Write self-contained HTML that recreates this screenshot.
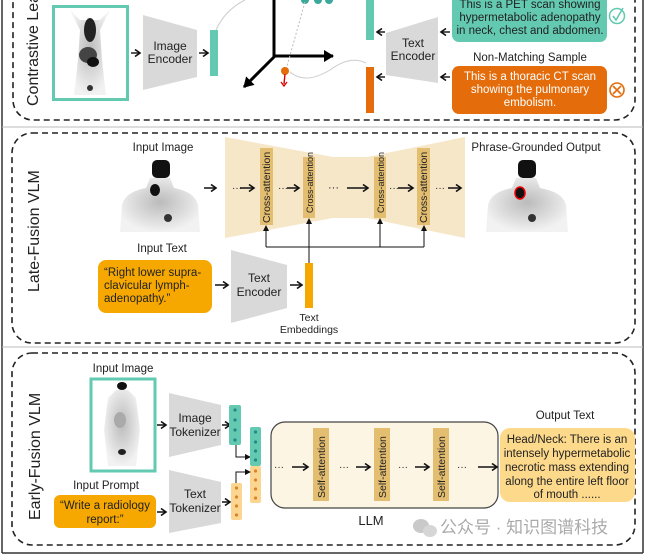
<!DOCTYPE html>
<html><head><meta charset="utf-8"><style>
html,body{margin:0;padding:0;background:#fff;}
svg{display:block;font-family:"Liberation Sans","Noto Sans CJK SC",sans-serif;}
</style></head><body>
<svg width="646" height="556" viewBox="0 0 646 556" xmlns="http://www.w3.org/2000/svg">
<defs>
<marker id="ah" markerWidth="8" markerHeight="8" refX="6" refY="4" orient="auto" markerUnits="userSpaceOnUse"><path d="M1,0.5 L6,4 L1,7.5" fill="none" stroke="#111" stroke-width="1.6"/></marker>
<marker id="ahb" markerWidth="12" markerHeight="12" refX="9" refY="6" orient="auto" markerUnits="userSpaceOnUse"><path d="M0,0 L10,6 L0,12 Z" fill="#000"/></marker>
<marker id="aht" markerWidth="6" markerHeight="6" refX="3" refY="3" orient="auto" markerUnits="userSpaceOnUse"><path d="M0,0 L6,3 L0,6 Z" fill="#111"/></marker>
<radialGradient id="body" cx="50%" cy="45%" r="55%"><stop offset="0" stop-color="#bbb"/><stop offset="1" stop-color="#f2f2f2"/></radialGradient>
</defs>

<line x1="2" y1="0" x2="2" y2="553" stroke="#333" stroke-width="1.5"/>
<line x1="643" y1="0" x2="643" y2="553" stroke="#333" stroke-width="1.5"/>
<line x1="2" y1="553" x2="643" y2="553" stroke="#333" stroke-width="1.5"/>
<line x1="2" y1="127" x2="643" y2="127" stroke="#bbb" stroke-width="1"/>
<line x1="2" y1="347" x2="643" y2="347" stroke="#bbb" stroke-width="1"/>

<!-- Panel 1 -->
<rect x="13" y="-30" width="622" height="150" rx="20" fill="none" stroke="#222" stroke-width="1.6" stroke-dasharray="6,4"/>
<text transform="translate(38,106) rotate(-90)" font-size="16" fill="#222">Contrastive Lear</text>
<rect x="53.5" y="6.5" width="74" height="93" fill="#fff" stroke="#63c9b1" stroke-width="3"/>
<path d="M70,10 L80,30 L78,60 L74,95 L106,95 L102,60 L100,30 L110,10 L100,20 L80,20 Z" fill="url(#body)"/>
<ellipse cx="90" cy="30" rx="6" ry="12" fill="#222"/>
<ellipse cx="88" cy="55" rx="9" ry="8" fill="#444"/>
<ellipse cx="93" cy="62" rx="6" ry="5" fill="#111"/>
<ellipse cx="90" cy="88" rx="3" ry="3" fill="#333"/>
<line x1="131" y1="53" x2="140" y2="53" stroke="#111" stroke-width="1.4" marker-end="url(#ah)"/>
<polygon points="143,15 197,30 197,77 143,90" fill="#d9d9d9"/>
<text x="170" y="50" font-size="12" text-anchor="middle" fill="#222">Image</text>
<text x="170" y="63" font-size="12" text-anchor="middle" fill="#222">Encoder</text>
<line x1="199" y1="53" x2="208" y2="53" stroke="#111" stroke-width="1.4" marker-end="url(#ah)"/>
<rect x="210" y="30" width="8" height="46" fill="#63c9b1"/>
<path d="M216,30 Q225,10 245,0" fill="none" stroke="#ccc" stroke-width="1"/>
<line x1="274" y1="57" x2="274" y2="0" stroke="#000" stroke-width="3"/>
<line x1="273" y1="56" x2="333" y2="56" stroke="#000" stroke-width="3" marker-end="url(#ahb)"/>
<line x1="275" y1="56" x2="244" y2="87" stroke="#000" stroke-width="3" marker-end="url(#ahb)"/>
<circle cx="305" cy="0" r="4" fill="#3aa89a"/><circle cx="318" cy="0" r="4" fill="#3aa89a"/><circle cx="329" cy="0" r="4" fill="#3aa89a"/>
<line x1="305" y1="2" x2="287" y2="66" stroke="#bbb" stroke-width="1" stroke-dasharray="2,2"/>
<path d="M366,63 Q350,55 330,70 Q305,85 290,72" fill="none" stroke="#ccc" stroke-width="1"/>
<circle cx="285" cy="71" r="4" fill="#e46c0a"/>
<line x1="285" y1="74" x2="284" y2="84" stroke="#d00" stroke-width="1.4"/>
<path d="M281,82 L284,86 L287,82" fill="none" stroke="#d00" stroke-width="1.3"/>
<rect x="366" y="0" width="8" height="40" fill="#63c9b1"/>
<rect x="366" y="67" width="8" height="46" fill="#e46c0a"/>
<line x1="385" y1="32" x2="377" y2="32" stroke="#111" stroke-width="1.4" marker-end="url(#ah)"/>
<line x1="385" y1="77" x2="377" y2="77" stroke="#111" stroke-width="1.4" marker-end="url(#ah)"/>
<polygon points="386,33 438,17 438,83 386,75" fill="#d9d9d9"/>
<text x="413" y="47" font-size="12" text-anchor="middle" fill="#222">Text</text>
<text x="413" y="60" font-size="12" text-anchor="middle" fill="#222">Encoder</text>
<line x1="450" y1="32" x2="441" y2="32" stroke="#111" stroke-width="1.4" marker-end="url(#ah)"/>
<line x1="450" y1="77" x2="441" y2="77" stroke="#111" stroke-width="1.4" marker-end="url(#ah)"/>
<rect x="452" y="-10" width="155" height="52" rx="7" fill="#63c9b1"/>
<g font-size="11.5" text-anchor="middle" fill="#222">
<text x="530" y="8">This is a PET scan showing</text>
<text x="530" y="21">hypermetabolic adenopathy</text>
<text x="530" y="34">in neck, chest and abdomen.</text>
</g>
<circle cx="617" cy="16" r="7.5" fill="none" stroke="#63c9b1" stroke-width="1.5"/>
<path d="M613,16 L616,20 L623,8" fill="none" stroke="#63c9b1" stroke-width="1.6"/>
<text x="530" y="61" font-size="11.5" text-anchor="middle" fill="#222">Non-Matching Sample</text>
<rect x="452" y="66" width="155" height="48" rx="7" fill="#e46c0a"/>
<g font-size="11.5" text-anchor="middle" fill="#fff">
<text x="530" y="80">This is a thoracic CT scan</text>
<text x="530" y="93">showing the pulmonary</text>
<text x="530" y="106">embolism.</text>
</g>
<circle cx="617" cy="90" r="7" fill="none" stroke="#e46c0a" stroke-width="1.6"/>
<path d="M613,86 L621,94 M621,86 L613,94" stroke="#e46c0a" stroke-width="1.6"/>

<!-- Panel 2 -->
<rect x="12" y="133" width="623" height="210" rx="20" fill="none" stroke="#222" stroke-width="1.6" stroke-dasharray="6,4"/>
<text transform="translate(39,292) rotate(-90)" font-size="16" fill="#222">Late-Fusion VLM</text>
<text x="163" y="151" font-size="11.5" text-anchor="middle" fill="#222">Input Image</text>
<path d="M150,178 L146,188 Q125,192 122,205 L120,232 L200,232 L198,205 Q195,192 174,188 L170,178 Z" fill="url(#body)"/>
<rect x="152" y="160" width="18" height="18" rx="5" fill="#111"/>
<ellipse cx="155" cy="190" rx="5" ry="6" fill="#111"/>
<ellipse cx="168" cy="218" rx="4" ry="4" fill="#333"/>
<line x1="204" y1="188" x2="216" y2="188" stroke="#111" stroke-width="1.5" marker-end="url(#ah)"/>
<polygon points="225,137 333,157 367,157 465,137 465,238 367,218 333,218 225,238" fill="#f6e7c9"/>
<text x="232" y="191" font-size="10" fill="#222">···</text>
<line x1="240" y1="188" x2="254" y2="188" stroke="#111" stroke-width="1.5" marker-end="url(#ah)"/>
<rect x="260" y="148" width="13" height="77" fill="#e3bd70"/>
<text transform="translate(270,223) rotate(-90)" font-size="10.5" fill="#222">Cross-attention</text>
<text x="278" y="191" font-size="10" fill="#222">···</text>
<line x1="287" y1="188" x2="299" y2="188" stroke="#111" stroke-width="1.5" marker-end="url(#ah)"/>
<rect x="303" y="157" width="12" height="61" fill="#e3bd70"/>
<text transform="translate(313,213) rotate(-90)" font-size="9" fill="#222">Cross-attention</text>
<text x="328" y="191" font-size="11" fill="#222">···</text>
<line x1="347" y1="188" x2="368" y2="188" stroke="#111" stroke-width="1.5" marker-end="url(#ah)"/>
<rect x="374" y="157" width="12" height="61" fill="#e3bd70"/>
<text transform="translate(384,213) rotate(-90)" font-size="9" fill="#222">Cross-attention</text>
<text x="389" y="191" font-size="10" fill="#222">···</text>
<line x1="398" y1="188" x2="413" y2="188" stroke="#111" stroke-width="1.5" marker-end="url(#ah)"/>
<rect x="417" y="148" width="13" height="77" fill="#e3bd70"/>
<text transform="translate(427,223) rotate(-90)" font-size="10.5" fill="#222">Cross-attention</text>
<text x="435" y="191" font-size="10" fill="#222">···</text>
<line x1="448" y1="188" x2="461" y2="188" stroke="#111" stroke-width="1.5" marker-end="url(#ah)"/>
<text x="536" y="151" font-size="11.5" text-anchor="middle" fill="#222">Phrase-Grounded Output</text>
<path d="M516,178 L512,188 Q491,192 488,205 L486,232 L568,232 L566,205 Q563,192 540,188 L536,178 Z" fill="url(#body)"/>
<rect x="518" y="160" width="18" height="18" rx="5" fill="#111"/>
<ellipse cx="520" cy="193" rx="5" ry="6" fill="#111" stroke="#e00" stroke-width="1.5"/>
<ellipse cx="532" cy="218" rx="4" ry="4" fill="#333"/>
<polyline points="266,247 424,247" fill="none" stroke="#111" stroke-width="1"/>
<line x1="266" y1="247" x2="266" y2="228" stroke="#111" stroke-width="1" marker-end="url(#aht)"/>
<line x1="380" y1="247" x2="380" y2="221" stroke="#111" stroke-width="1" marker-end="url(#aht)"/>
<line x1="424" y1="247" x2="424" y2="228" stroke="#111" stroke-width="1" marker-end="url(#aht)"/>
<line x1="309" y1="263" x2="309" y2="221" stroke="#111" stroke-width="1" marker-end="url(#aht)"/>
<text x="162" y="252" font-size="11.5" text-anchor="middle" fill="#222">Input Text</text>
<rect x="98" y="260" width="114" height="53" rx="8" fill="#f6a800"/>
<g font-size="11.5" fill="#222">
<text x="104" y="276">“Right lower supra-</text>
<text x="104" y="289">clavicular lymph-</text>
<text x="104" y="302">adenopathy.”</text>
</g>
<line x1="215" y1="285" x2="228" y2="285" stroke="#111" stroke-width="1.5" marker-end="url(#ah)"/>
<polygon points="231,250 287,265 287,308 231,323" fill="#d9d9d9"/>
<text x="259" y="282" font-size="12" text-anchor="middle" fill="#222">Text</text>
<text x="259" y="296" font-size="12" text-anchor="middle" fill="#222">Encoder</text>
<line x1="290" y1="285" x2="302" y2="285" stroke="#111" stroke-width="1.5" marker-end="url(#ah)"/>
<rect x="305" y="263" width="8" height="45" fill="#f6a800"/>
<text x="309" y="321" font-size="10.5" text-anchor="middle" fill="#222">Text</text>
<text x="309" y="333" font-size="10.5" text-anchor="middle" fill="#222">Embeddings</text>

<!-- Panel 3 -->
<rect x="12" y="353" width="623" height="192" rx="20" fill="none" stroke="#222" stroke-width="1.6" stroke-dasharray="6,4"/>
<text transform="translate(40,520) rotate(-90)" font-size="16" fill="#222">Early-Fusion VLM</text>
<text x="123" y="372" font-size="11.5" text-anchor="middle" fill="#222">Input Image</text>
<rect x="91" y="379" width="64" height="92" fill="#fff" stroke="#63c9b1" stroke-width="3"/>
<path d="M116,390 L108,398 L104,430 L108,466 L136,466 L140,430 L136,398 L128,390 Z" fill="url(#body)"/>
<ellipse cx="122" cy="386" rx="5" ry="4" fill="#111"/>
<ellipse cx="120" cy="420" rx="6" ry="8" fill="#aaa"/>
<ellipse cx="122" cy="452" rx="4" ry="3" fill="#222"/>
<line x1="157" y1="425" x2="166" y2="425" stroke="#111" stroke-width="1.5" marker-end="url(#ah)"/>
<polygon points="169,393 221,405 221,445 169,457" fill="#d9d9d9"/>
<text x="195" y="422" font-size="12" text-anchor="middle" fill="#222">Image</text>
<text x="195" y="436" font-size="12" text-anchor="middle" fill="#222">Tokenizer</text>
<line x1="222" y1="425" x2="230" y2="425" stroke="#111" stroke-width="1.5" marker-end="url(#ah)"/>
<rect x="229" y="405" width="12" height="40" rx="2" fill="#63c9b1"/>
<g fill="#1f8a86"><circle cx="235" cy="410" r="1.6"/><circle cx="235" cy="420" r="1.6"/><circle cx="235" cy="430" r="1.6"/><circle cx="235" cy="440" r="1.6"/></g>
<polyline points="236,445 236,457 248,457" fill="none" stroke="#111" stroke-width="1" marker-end="url(#aht)"/>
<rect x="250" y="427" width="11" height="39" rx="2" fill="#63c9b1"/>
<g fill="#1f8a86"><circle cx="255.5" cy="432" r="1.6"/><circle cx="255.5" cy="442" r="1.6"/><circle cx="255.5" cy="451" r="1.6"/><circle cx="255.5" cy="460" r="1.6"/></g>
<rect x="250" y="466" width="11" height="37" rx="2" fill="#fcd690"/>
<g fill="#d9822b"><circle cx="255.5" cy="471" r="1.6"/><circle cx="255.5" cy="480" r="1.6"/><circle cx="255.5" cy="489" r="1.6"/><circle cx="255.5" cy="498" r="1.6"/></g>
<text x="106" y="489" font-size="11.5" text-anchor="middle" fill="#222">Input Prompt</text>
<rect x="54" y="495" width="102" height="33" rx="6" fill="#f6a800"/>
<text x="105" y="509" font-size="11.5" text-anchor="middle" fill="#222">“Write a radiology</text>
<text x="105" y="523" font-size="11.5" text-anchor="middle" fill="#222">report:”</text>
<line x1="157" y1="512" x2="166" y2="512" stroke="#111" stroke-width="1.5" marker-end="url(#ah)"/>
<polygon points="169,470 221,482 221,523 169,533" fill="#d9d9d9"/>
<text x="195" y="498" font-size="12" text-anchor="middle" fill="#222">Text</text>
<text x="195" y="512" font-size="12" text-anchor="middle" fill="#222">Tokenizer</text>
<line x1="222" y1="502" x2="230" y2="502" stroke="#111" stroke-width="1.5" marker-end="url(#ah)"/>
<rect x="231" y="483" width="11" height="37" rx="2" fill="#fcd690"/>
<g fill="#d9822b"><circle cx="236.5" cy="488" r="1.6"/><circle cx="236.5" cy="497" r="1.6"/><circle cx="236.5" cy="506" r="1.6"/><circle cx="236.5" cy="515" r="1.6"/></g>
<polyline points="236,483 236,472 248,472" fill="none" stroke="#111" stroke-width="1" marker-end="url(#aht)"/>
<rect x="271" y="422" width="227" height="86" rx="14" fill="#fdf5e4" stroke="#444" stroke-width="1.2"/>
<text x="274" y="470" font-size="10" fill="#222">···</text>
<line x1="292" y1="467" x2="308" y2="467" stroke="#111" stroke-width="1.5" marker-end="url(#ah)"/>
<rect x="313" y="428" width="16" height="73" fill="#e3bd70"/>
<text transform="translate(325,498) rotate(-90)" font-size="10.5" fill="#222">Self-attention</text>
<text x="339" y="470" font-size="10" fill="#222">···</text>
<line x1="356" y1="467" x2="370" y2="467" stroke="#111" stroke-width="1.5" marker-end="url(#ah)"/>
<rect x="374" y="428" width="16" height="73" fill="#e3bd70"/>
<text transform="translate(386,498) rotate(-90)" font-size="10.5" fill="#222">Self-attention</text>
<text x="398" y="470" font-size="10" fill="#222">···</text>
<line x1="415" y1="467" x2="429" y2="467" stroke="#111" stroke-width="1.5" marker-end="url(#ah)"/>
<rect x="433" y="428" width="16" height="73" fill="#e3bd70"/>
<text transform="translate(445,498) rotate(-90)" font-size="10.5" fill="#222">Self-attention</text>
<text x="457" y="470" font-size="10" fill="#222">···</text>
<line x1="478" y1="467" x2="497" y2="467" stroke="#111" stroke-width="1.5" marker-end="url(#ah)"/>
<text x="371" y="525" font-size="13" text-anchor="middle" fill="#222">LLM</text>
<text x="565" y="419" font-size="11.5" text-anchor="middle" fill="#222">Output Text</text>
<rect x="500" y="428" width="135" height="74" rx="10" fill="#fdd98c"/>
<g font-size="11.5" text-anchor="middle" fill="#222">
<text x="567" y="443">Head/Neck: There is an</text>
<text x="567" y="457">intensely hypermetabolic</text>
<text x="567" y="471">necrotic mass extending</text>
<text x="567" y="485">along the entire left floor</text>
<text x="567" y="498">of mouth ......</text>
</g>
<ellipse cx="421" cy="526" rx="8" ry="7" fill="#c9c9c9"/>
<ellipse cx="430" cy="531" rx="7" ry="6" fill="#d6d6d6"/>
<text x="440" y="533" font-size="17" fill="#aaa">公众号 · 知识图谱科技</text>
</svg>
</body></html>
